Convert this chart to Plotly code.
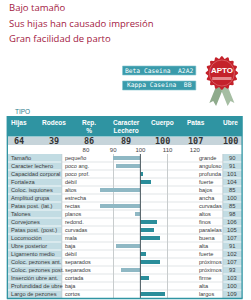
import plotly.graph_objects as go
import numpy as np

# ---------------- data ----------------
title_lines = ["Bajo tamaño", "Sus hijas han causado impresión", "Gran facilidad de parto"]
legend_labels = ["Beta Caseina  A2A2", "Kappa Caseina  BB"]
badge_text = "APTO"
section_label = "TIPO"
summary_headers = ["Hijas", "Rodeos", "Rep.<br>%", "Caracter<br>Lechero", "Cuerpo", "Patas", "Ubre"]
summary_values = [64, 39, 86, 89, 100, 107, 100]
traits = ["Tamaño", "Caracter lechero", "Capacidad corporal", "Fortaleza", "Coloc. isquiones",
          "Amplitud grupa", "Patas post. (lat.)", "Talones", "Corvejones", "Patas post. (post.)",
          "Locomoción", "Ubre posterior", "Ligamento medio", "Coloc. pezones ant.",
          "Coloc. pezones post.", "Inserción ubre ant.", "Profundidad de ubre", "Largo de pezones"]
low_labels = ["pequeño", "poco ang.", "poco prof.", "débil", "altos", "estrecha", "rectas",
              "planos", "redond.", "curvadas", "mala", "baja", "débil", "separados",
              "separados", "cortada", "baja", "cortos"]
high_labels = ["grande", "anguloso", "profunda", "fuerte", "bajos", "ancha", "curvadas",
               "altos", "finos", "paralelas", "buena", "alta", "fuerte", "próximos",
               "próximos", "firme", "alta", "largos"]
trait_values = [90, 91, 101, 104, 85, 100, 85, 98, 106, 105, 107, 91, 102, 107, 93, 103, 100, 109]
scale_ticks = [80, 90, 100, 110, 120]
mean_value = 100

# ---------------- style ----------------
W, H = 251, 300
def PX(x): return x / W
def PY(y): return 1 - y / H

TEAL = "#2f94a2"
LIGHT_BAR = "#8fb8c4"
DARK_BAR = "#2a8d9a"
CELL_BG = "#c2dce3"
VAL_BG = "#c6d4da"
RED = "#a3203f"
NARROW = "Liberation Sans Narrow, Liberation Sans, sans-serif"
TXT = "#3a3a3a"

n = len(traits)
row_top, row_bot = 154, 298

fig = go.Figure()
fig.add_trace(go.Bar(
    y=list(range(n)),
    x=[v - mean_value for v in trait_values],
    base=mean_value,
    orientation="h",
    width=0.55,
    marker=dict(color=[DARK_BAR if v >= mean_value else LIGHT_BAR for v in trait_values], line=dict(width=0)),
    hoverinfo="skip",
))

shapes = []
ann = []

# titles
for i, t in enumerate(title_lines):
    ann.append(dict(x=PX(4), y=PY(8 + 15 * i), xref="paper", yref="paper", text=t, showarrow=False,
                    xanchor="left", yanchor="middle", font=dict(family="Open Sans", size=9.5, color=RED)))

# legend boxes
for i, t in enumerate(legend_labels):
    y0, y1 = 66 + 15 * i, 75 + 15 * i
    shapes.append(dict(type="rect", xref="paper", yref="paper", x0=PX(124), x1=PX(200), y0=PY(y1), y1=PY(y0),
                       fillcolor="#3a9bab", line=dict(color="#7fc3cc", width=0.6), layer="below"))
    ann.append(dict(x=PX(162), y=PY((y0 + y1) / 2), xref="paper", yref="paper", text=t, showarrow=False,
                    xanchor="center", yanchor="middle", font=dict(family="DejaVu Sans Mono", size=6.3, color="white")))

# badge ribbons
cx, cy, r = 227, 73, 17
def path(pts):
    return "M " + " L ".join(f"{PX(x):.5f},{PY(y):.5f}" for x, y in pts) + " Z"
shapes.append(dict(type="path", xref="paper", yref="paper", layer="above",
                   path=path([(222, 84), (214, 103), (218, 101), (221, 106), (229, 87)]),
                   fillcolor="#8fab8c", line=dict(width=0)))
shapes.append(dict(type="path", xref="paper", yref="paper", layer="above",
                   path=path([(232, 84), (240, 103), (236, 101), (233, 106), (225, 87)]),
                   fillcolor="#a6bea3", line=dict(width=0)))
ang = np.linspace(0, 2 * np.pi, 97)[:-1]
rad = r - 1.3 + 1.3 * np.cos(16 * ang)
shapes.append(dict(type="path", xref="paper", yref="paper", layer="above",
                   path=path(list(zip(cx + rad * np.cos(ang), cy + rad * np.sin(ang)))),
                   fillcolor="#c4222b", line=dict(width=0)))
shapes.append(dict(type="circle", xref="paper", yref="paper", layer="above",
                   x0=PX(cx - 13), x1=PX(cx + 13), y0=PY(cy + 13), y1=PY(cy - 13),
                   fillcolor="rgba(0,0,0,0)", line=dict(color="#e27a80", width=0.6)))
shapes.append(dict(type="rect", xref="paper", yref="paper", layer="above",
                   x0=PX(cx - 10), x1=PX(cx + 10), y0=PY(80), y1=PY(77),
                   fillcolor="#e6888c", line=dict(width=0)))
ann.append(dict(x=PX(cx), y=PY(70), xref="paper", yref="paper", text=f"<b>{badge_text}</b>", showarrow=False,
                xanchor="center", yanchor="middle", font=dict(family="Liberation Sans", size=8, color="white")))

# section label
ann.append(dict(x=PX(10), y=PY(112), xref="paper", yref="paper", text=section_label, showarrow=False,
                xanchor="left", yanchor="middle", font=dict(family="Liberation Sans", size=6.5, color="#2f7f8f")))

# header band and summary values
shapes.append(dict(type="rect", xref="paper", yref="paper", x0=PX(4), x1=PX(248), y0=PY(136.5), y1=PY(116),
                   fillcolor=TEAL, line=dict(width=0), layer="below"))
shapes.append(dict(type="rect", xref="paper", yref="paper", x0=PX(4), x1=PX(248), y0=PY(145), y1=PY(137),
                   fillcolor=VAL_BG, line=dict(width=0), layer="below"))
col_x = [17, 53, 89, 128, 165, 200, 236]
for x, h, v in zip(col_x, summary_headers, summary_values):
    ann.append(dict(x=PX(x), y=PY(117), xref="paper", yref="paper", text=f"<b>{h}</b>", showarrow=False,
                    xanchor="center", yanchor="top", font=dict(family=NARROW, size=6.5, color="white")))
    ann.append(dict(x=PX(x), y=PY(141), xref="paper", yref="paper", text=f"<b>{v}</b>", showarrow=False,
                    xanchor="center", yanchor="middle", font=dict(family="DejaVu Sans Mono", size=8.5, color="#333")))

# table backgrounds
shapes.append(dict(type="rect", xref="paper", yref="paper", x0=PX(5), x1=PX(61), y0=PY(row_bot), y1=PY(row_top),
                   fillcolor=CELL_BG, line=dict(width=0), layer="below"))
shapes.append(dict(type="rect", xref="paper", yref="paper", x0=PX(228), x1=PX(248), y0=PY(row_bot), y1=PY(row_top),
                   fillcolor=CELL_BG, line=dict(width=0), layer="below"))
for x in (61, 228):
    shapes.append(dict(type="line", xref="paper", yref="paper", x0=PX(x), x1=PX(x), y0=PY(row_bot), y1=PY(row_top),
                       line=dict(color="#b8c4c8", width=0.7)))
for i in range(n - 1):
    shapes.append(dict(type="line", xref="paper", yref="y", x0=PX(61), x1=PX(228), y0=i + 0.5, y1=i + 0.5,
                       line=dict(color="#d4dadc", width=0.7), layer="below"))
    for a, b in ((5, 61), (228, 248)):
        shapes.append(dict(type="line", xref="paper", yref="y", x0=PX(a), x1=PX(b), y0=i + 0.5, y1=i + 0.5,
                           line=dict(color="#ffffff", width=0.8), layer="below"))
# mean line
shapes.append(dict(type="line", xref="x", yref="paper", x0=mean_value, x1=mean_value, y0=PY(row_bot), y1=PY(row_top),
                   line=dict(color="#4d5c62", width=1)))
# borders
for x in (4.5, 248):
    shapes.append(dict(type="line", xref="paper", yref="paper", x0=PX(x), x1=PX(x), y0=PY(298.5), y1=PY(116),
                       line=dict(color=TEAL, width=1.3)))
shapes.append(dict(type="line", xref="paper", yref="paper", x0=PX(4), x1=PX(248.5), y0=PY(298.5), y1=PY(298.5),
                   line=dict(color=TEAL, width=1.3)))

# row texts
for i in range(n):
    ann.append(dict(x=PX(6.5), y=i, xref="paper", yref="y", text=traits[i], showarrow=False, xanchor="left",
                    yanchor="middle", font=dict(family=NARROW, size=5.7, color=TXT)))
    ann.append(dict(x=PX(62), y=i, xref="paper", yref="y", text=low_labels[i], showarrow=False, xanchor="left",
                    yanchor="middle", font=dict(family=NARROW, size=5.5, color=TXT)))
    ann.append(dict(x=PX(201.5), y=i, xref="paper", yref="y", text=high_labels[i], showarrow=False, xanchor="left",
                    yanchor="middle", font=dict(family=NARROW, size=5.6, color=TXT)))
    ann.append(dict(x=PX(238), y=i, xref="paper", yref="y", text=str(trait_values[i]), showarrow=False,
                    xanchor="center", yanchor="middle", font=dict(family=NARROW, size=5.8, color=TXT)))

fig.update_layout(
    width=W, height=H, margin=dict(l=0, r=0, t=0, b=0),
    paper_bgcolor="white", plot_bgcolor="rgba(0,0,0,0)",
    showlegend=False, bargap=0,
    xaxis=dict(domain=[PX(86), PX(199)], range=[80, 120], side="top", tickvals=scale_ticks,
               ticktext=[str(t) for t in scale_ticks], showgrid=True, gridcolor="#c8cccd", gridwidth=0.8,
               zeroline=False, showline=False, ticks="", tickfont=dict(family=NARROW, size=6, color="#444"),
               fixedrange=True),
    yaxis=dict(domain=[PY(row_bot), PY(row_top)], range=[n - 0.5, -0.5], showticklabels=False,
               showgrid=False, zeroline=False, showline=False, fixedrange=True),
    shapes=shapes, annotations=ann,
)

fig.write_html("out.html")
